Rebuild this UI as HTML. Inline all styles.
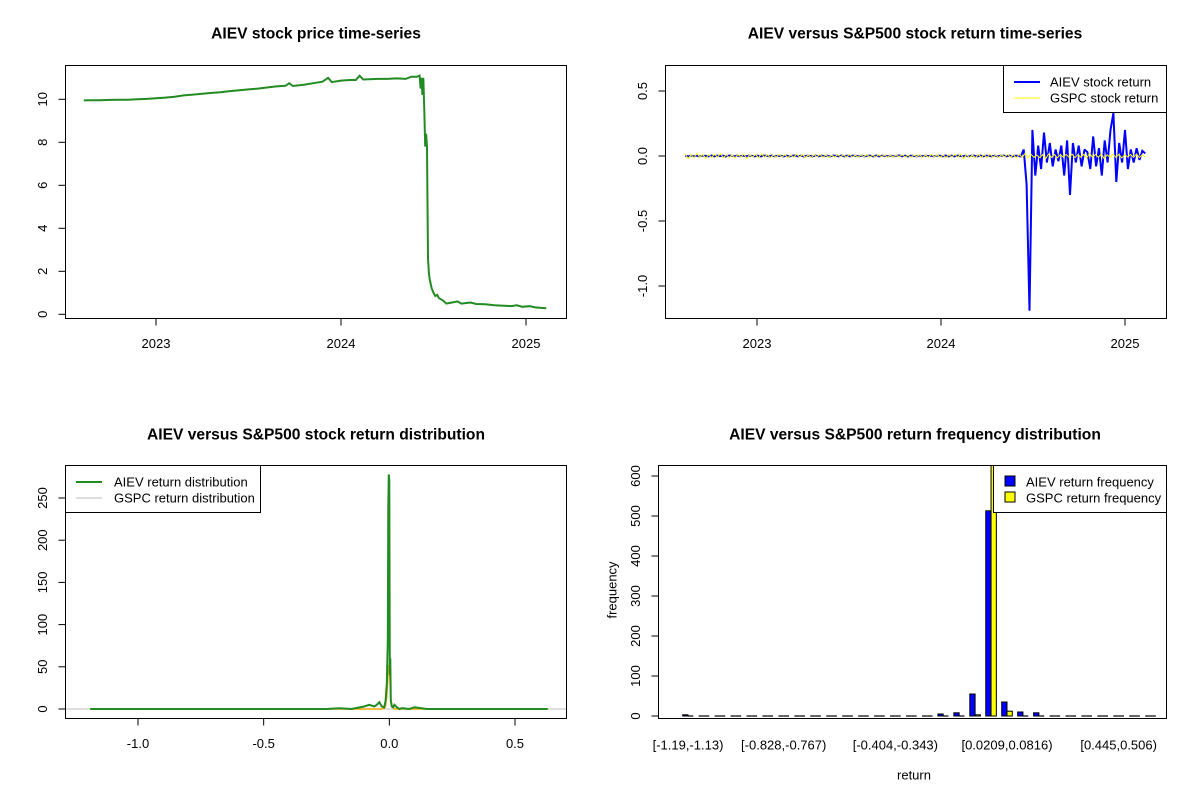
<!DOCTYPE html>
<html><head><meta charset="utf-8"><style>
body{margin:0;background:#fff;}
svg{display:block;font-family:"Liberation Sans",Arial,sans-serif;}
</style></head><body>
<svg id="c" width="1200" height="800" viewBox="0 0 1200 800"></svg>
<script>
// ---- DATA ----
const priceDates=[2022.61,2022.65,2022.70,2022.75,2022.80,2022.85,2022.90,2022.95,2023.0,2023.05,2023.1,2023.15,2023.2,2023.25,2023.3,2023.35,2023.4,2023.45,2023.5,2023.55,2023.6,2023.65,2023.7,2023.72,2023.74,2023.8,2023.85,2023.9,2023.93,2023.95,2024.0,2024.05,2024.08,2024.1,2024.12,2024.2,2024.25,2024.3,2024.35,2024.38,2024.41,2024.425,2024.43,2024.435,2024.44,2024.445,2024.45,2024.455,2024.46,2024.465,2024.47,2024.475,2024.48,2024.49,2024.5,2024.51,2024.52,2024.53,2024.55,2024.57,2024.6,2024.63,2024.65,2024.7,2024.73,2024.78,2024.83,2024.88,2024.92,2024.95,2024.98,2025.02,2025.05,2025.08,2025.11];
const priceValues=[9.95,9.96,9.96,9.97,9.98,9.98,10.0,10.02,10.05,10.08,10.12,10.18,10.22,10.26,10.3,10.33,10.38,10.42,10.46,10.5,10.55,10.6,10.63,10.75,10.62,10.68,10.75,10.82,11.0,10.8,10.87,10.9,10.9,11.1,10.92,10.95,10.95,10.97,10.95,11.05,11.05,11.1,10.5,11.0,10.2,11.0,9.5,7.8,8.4,7.8,2.6,1.9,1.6,1.2,1.0,0.85,0.9,0.75,0.65,0.5,0.55,0.6,0.5,0.55,0.48,0.47,0.42,0.4,0.38,0.42,0.35,0.38,0.32,0.3,0.28];
const retStart=2022.61, retEnd=2025.11;
const aievReturns=[0.002,-0.003,0.004,-0.002,0.003,-0.004,0.002,0.001,-0.003,0.004,-0.002,0.003,-0.001,0.002,-0.004,0.003,0.002,-0.002,0.004,-0.003,0.002,-0.002,0.003,0.001,-0.003,0.002,-0.004,0.003,0.002,-0.002,0.004,-0.003,0.002,0.001,-0.002,0.003,-0.003,0.002,0.004,-0.002,0.003,-0.004,0.002,0.001,-0.003,0.004,-0.002,0.003,-0.001,0.002,-0.004,0.003,0.002,-0.002,0.004,-0.003,0.002,-0.002,0.003,0.001,-0.003,0.002,-0.004,0.003,0.002,-0.002,0.004,-0.003,0.002,0.001,-0.002,0.003,-0.003,0.002,0.004,-0.002,0.003,-0.004,0.002,0.001,-0.003,0.004,-0.002,0.003,-0.001,0.002,-0.004,0.003,0.002,-0.002,0.004,-0.003,0.002,-0.002,0.003,0.001,-0.003,0.002,-0.004,0.003,0.002,-0.002,0.004,-0.003,0.002,0.001,-0.002,0.003,-0.003,0.002,0.004,-0.002,0.003,-0.004,0.002,0.001,-0.003,
0.05,-0.22,-1.19,0.2,-0.15,0.08,-0.1,0.18,-0.05,0.1,-0.08,0.05,-0.04,0.08,-0.15,0.12,-0.3,0.1,-0.05,0.08,-0.08,0.05,0.03,-0.1,0.15,-0.08,0.06,-0.15,0.12,-0.05,0.2,0.33,-0.2,0.1,-0.05,0.2,-0.1,0.05,-0.05,0.06,-0.03,0.04,0.02];
const gspcReturns=[0.015,-0.02,0.01,-0.015,0.02,-0.01,0.012,-0.018,0.01,-0.012,0.015,-0.01,0.02,-0.015,0.01,-0.012,0.008,-0.015,0.012,-0.01,0.015,-0.02,0.01,-0.008,0.012,-0.015,0.018,-0.01,0.01,-0.012,0.008,-0.01,0.012,-0.008,0.01,-0.012,0.008,-0.01,0.015,-0.008,0.01,-0.01,0.008,-0.012,0.01,-0.008,0.012,-0.01,0.008,-0.01,0.006,-0.008,0.01,-0.006,0.008,-0.01,0.012,-0.008,0.006,-0.01,0.008,-0.006,0.01,-0.008,0.006,-0.008,0.01,-0.006,0.008,-0.01,0.006,-0.008,0.008,-0.006,0.01,-0.008,0.006,-0.01,0.008,-0.006,0.01,-0.012,0.008,-0.01,0.012,-0.008,0.01,-0.01,0.008,-0.012,0.01,-0.008,0.012,-0.01,0.015,-0.02,0.01,-0.012,0.008,-0.015,0.012,-0.01,0.01,-0.012,0.015,-0.01,0.008,-0.012,0.01,-0.008,0.012,-0.01,0.01,-0.015,0.012,-0.01,0.02,-0.015,0.012,-0.01,0.008,-0.012,0.01,-0.02,0.015,-0.01,0.012,-0.015,0.01,-0.008,0.012,-0.01,0.015,-0.012,0.01,-0.008,0.012,-0.015,0.02,-0.01,0.012,-0.01,0.015,-0.02,0.01,-0.012,0.015,-0.01,0.012,-0.015,0.01,-0.008,0.012,-0.01,0.015,-0.012,0.01,-0.008];
const densX=[-1.19,-0.5,-0.25,-0.2,-0.15,-0.1,-0.08,-0.06,-0.05,-0.04,-0.03,-0.02,-0.015,-0.01,-0.006,-0.004,-0.002,0,0.002,0.004,0.006,0.01,0.015,0.02,0.03,0.04,0.05,0.08,0.1,0.15,0.2,0.63];
const aievDens=[0,0,0,1,0,3,5,3,5,8,3,2,10,30,80,240,278,270,40,60,10,3,2,5,2,0,1,0,2,0,0,0];
const gspcDens=[0,0,0,0,0,0,0,0,0,0,0,1,4,15,35,48,52,50,40,25,12,5,2,0,0,0,0,0,0,0,0,0];
const binLabels=["[-1.19,-1.13)","[-0.828,-0.767)","[-0.404,-0.343)","[0.0209,0.0816)","[0.445,0.506)"];
const binLabelIdx=[0,6,13,20,27];
const aievFreq=[3,0,0,0,0,0,0,0,0,0,0,0,0,0,2,2,5,8,55,513,35,10,8,0,0,0,0,0,0,0];
const gspcFreq=[0,0,0,0,0,0,0,0,0,0,0,0,0,0,0,0,0,1,3,640,12,1,0,0,0,0,0,0,0,0];

const NS="http://www.w3.org/2000/svg";
const svg=document.getElementById('c');
function mk(tag,attrs,parent){const e=document.createElementNS(NS,tag);for(const k in attrs)e.setAttribute(k,attrs[k]);(parent||svg).appendChild(e);return e;}
function txt(s,x,y,opts,parent){const t=mk('text',Object.assign({x:x,y:y,'font-size':13,'text-anchor':'middle','dominant-baseline':'central',fill:'#000'},opts||{}),parent);t.textContent=s;return t;}
function lin(d,r){return v=>r[0]+(v-d[0])*(r[1]-r[0])/(d[1]-d[0]);}
function polyline(xs,ys,fx,fy,col,w,name){const pts=xs.map((x,i)=>fx(x).toFixed(1)+','+fy(ys[i]).toFixed(1)).join(' ');const p=mk('polyline',{points:pts,fill:'none',stroke:col,'stroke-width':w,'stroke-linejoin':'miter','stroke-miterlimit':2});return p;}
function box(x0,y0,x1,y1,name){const r=mk('rect',{x:x0,y:y0,width:x1-x0,height:y1-y0,fill:'none',stroke:'#000','stroke-width':1});}
function yAxis(x0,ticks,fy,lbls,name){const g=mk('g',{});
 mk('line',{x1:x0,x2:x0,y1:fy(ticks[0]),y2:fy(ticks[ticks.length-1]),stroke:'#000'},g);
 ticks.forEach((t,i)=>{mk('line',{x1:x0-7,x2:x0,y1:fy(t),y2:fy(t),stroke:'#000'},g);txt(lbls[i],x0-23,fy(t),{transform:'rotate(-90 '+(x0-23)+' '+fy(t)+')'},g);});}
function xAxis(y0,ticks,fx,lbls,name){const g=mk('g',{});
 mk('line',{x1:fx(ticks[0]),x2:fx(ticks[ticks.length-1]),y1:y0,y2:y0,stroke:'#000'},g);
 ticks.forEach((t,i)=>{mk('line',{x1:fx(t),x2:fx(t),y1:y0,y2:y0+7,stroke:'#000'},g);txt(lbls[i],fx(t),y0+25,{},g);});}
function title(s,x,y,name){const t=txt(s,x,y,{'font-weight':'bold','font-size':15.6});}

// ---- Panel 1: price ----
{const fx=lin([2023,2025],[156,526]);const fy=lin([0,10],[314.3,99.3]);
title('AIEV stock price time-series',316,34,'price-chart-title');
polyline(priceDates,priceValues,fx,fy,'#228B22',2,'price-line');
box(65.5,65.5,566.5,318.5,'price-plot-box');
yAxis(65.5,[0,2,4,6,8,10],fy,['0','2','4','6','8','10'],'price-y-axis');
xAxis(318.5,[2023,2024,2025],fx,['2023','2024','2025'],'price-x-axis');}

// ---- Panel 2: returns ----
{const fx=lin([2023,2025],[757,1125]);const fy=lin([0,0.5],[156,91]);
title('AIEV versus S&P500 stock return time-series',915,34,'return-chart-title');
const n1=aievReturns.length, n2=gspcReturns.length;
const d1=aievReturns.map((v,i)=>retStart+i*(retEnd-retStart)/(n1-1));
const d2=gspcReturns.map((v,i)=>retStart+i*(retEnd-retStart)/(n2-1));
polyline(d1,aievReturns,fx,fy,'#0000FF',2,'aiev-return-line');
polyline(d2,gspcReturns,fx,fy,'#FFFF00',1,'gspc-return-line');
box(665.5,65.5,1166.5,318.5,'return-plot-box');
yAxis(665.5,[-1,-0.5,0,0.5],fy,['-1.0','-0.5','0.0','0.5'],'return-y-axis');
xAxis(318.5,[2023,2024,2025],fx,['2023','2024','2025'],'return-x-axis');
const lg=mk('g',{});
mk('rect',{x:1003.5,y:65.5,width:163,height:47,fill:'#fff',stroke:'#000'},lg);
mk('line',{x1:1014,x2:1040,y1:82,y2:82,stroke:'#0000FF','stroke-width':2},lg);
txt('AIEV stock return',1050,82,{'text-anchor':'start'},lg);
mk('line',{x1:1014,x2:1040,y1:98,y2:98,stroke:'#FFFF00','stroke-width':1},lg);
txt('GSPC stock return',1050,98,{'text-anchor':'start'},lg);}

// ---- Panel 3: density ----
{const fx=lin([-1,0.5],[138,515]);const fy=lin([0,250],[709,498]);
title('AIEV versus S&P500 stock return distribution',316,435,'density-chart-title');
mk('line',{x1:66,x2:566,y1:fy(0),y2:fy(0),stroke:'#BEBEBE'});
polyline(densX,gspcDens,fx,fy,'#FFA500',1.5,'gspc-density-line');
polyline(densX,aievDens,fx,fy,'#228B22',2,'aiev-density-line');
box(65.5,465.5,566.5,718.5,'density-plot-box');
yAxis(65.5,[0,50,100,150,200,250],fy,['0','50','100','150','200','250'],'density-y-axis');
xAxis(718.5,[-1,-0.5,0,0.5],fx,['-1.0','-0.5','0.0','0.5'],'density-x-axis');
const lg=mk('g',{});
mk('rect',{x:65.5,y:465.5,width:195,height:47,fill:'#fff',stroke:'#000'},lg);
mk('line',{x1:76,x2:102,y1:482,y2:482,stroke:'#228B22','stroke-width':2},lg);
txt('AIEV return distribution',114,482,{'text-anchor':'start'},lg);
mk('line',{x1:76,x2:102,y1:498,y2:498,stroke:'#BEBEBE','stroke-width':1},lg);
txt('GSPC return distribution',114,498,{'text-anchor':'start'},lg);}

// ---- Panel 4: histogram ----
{const fy=lin([0,600],[716,476]);const u=5.3;
title('AIEV versus S&P500 return frequency distribution',915,435,'histogram-chart-title');
const g=mk('g',{});
function bar(x,v,col,name){const top=Math.max(fy(v),465.5);
 if(fy(0)-top<1){const l=mk('line',{x1:x,x2:x+u,y1:fy(0),y2:fy(0),stroke:'#000','stroke-width':1.2},g);
  
  return;}
 const r=mk('rect',{x:x,y:top,width:u,height:fy(0)-top,fill:col,stroke:'#000','stroke-width':1},g);
 
 }
aievFreq.forEach((v,k)=>bar(688+15.95*k-u,v,'#0000FF','aiev-bar'));
gspcFreq.forEach((v,k)=>bar(688+15.95*k,v,'#FFFF00','gspc-bar'));
box(658.5,465.5,1166.5,718.5,'histogram-plot-box');
yAxis(658.5,[0,100,200,300,400,500,600],fy,['0','100','200','300','400','500','600'],'histogram-y-axis');
const xl=mk('g',{});
binLabelIdx.forEach((k,i)=>txt(binLabels[i],688+15.95*k,745,{},xl));
const xt=txt('return',914,775);
const yt=txt('frequency',612,590,{transform:'rotate(-90 612 590)'});
const lg=mk('g',{});
mk('rect',{x:993.5,y:465.5,width:173,height:47,fill:'#fff',stroke:'#000'},lg);
mk('rect',{x:1005,y:476,width:10,height:10,fill:'#0000FF',stroke:'#000'},lg);
txt('AIEV return frequency',1026,482,{'text-anchor':'start'},lg);
mk('rect',{x:1005,y:492,width:10,height:10,fill:'#FFFF00',stroke:'#000'},lg);
txt('GSPC return frequency',1026,498,{'text-anchor':'start'},lg);}
</script>
</body></html>
